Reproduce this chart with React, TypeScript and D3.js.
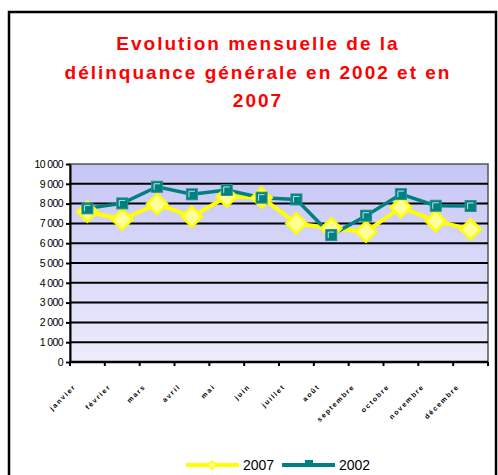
import {useEffect, useRef} from "react";
import * as d3 from "d3";

const months = ["janvier", "février", "mars", "avril", "mai", "juin", "juillet", "août", "septembre", "octobre", "novembre", "décembre"];
const values2007 = [7600, 7200, 7980, 7340, 8350, 8300, 7000, 6750, 6580, 7810, 7120, 6700];
const values2002 = [7760, 8010, 8850, 8470, 8690, 8300, 8210, 6410, 7390, 8480, 7890, 7880];
const yTicks = [0, 1000, 2000, 3000, 4000, 5000, 6000, 7000, 8000, 9000, 10000];
const titleLines = ["Evolution mensuelle de la", "délinquance générale en 2002 et en", "2007"];

function App() {
    const ref = useRef<SVGSVGElement>(null);

    useEffect(() => {
        const svg = d3.select(ref.current);
        svg.selectAll("*").remove();

        const margin = {top: 164, left: 70, right: 10, bottom: 113};
        const width = 498, height = 475;
        const w = width - margin.left - margin.right;
        const h = height - margin.top - margin.bottom;

        // outer frame
        svg.append("rect")
            .attr("x", 9).attr("y", 12)
            .attr("width", 487).attr("height", 480)
            .attr("fill", "white").attr("stroke", "black").attr("stroke-width", 2.5);

        // title
        svg.append("text")
            .attr("x", 258).attr("y", 50)
            .attr("text-anchor", "middle")
            .attr("font-family", "Arial, 'Liberation Sans', sans-serif")
            .attr("font-weight", "bold").attr("font-size", 19)
            .attr("letter-spacing", 2)
            .attr("fill", "#ff0000")
            .selectAll("tspan")
            .data(titleLines)
            .enter()
            .append("tspan")
            .attr("x", 258)
            .attr("dy", (d, i) => i === 0 ? 0 : 28.5)
            .text(d => d);

        const x = d3.scaleBand().domain(months).range([0, w]);
        const y = d3.scaleLinear().domain([0, 10000]).range([h, 0]);

        const defs = svg.append("defs");
        const grad = defs.append("linearGradient")
            .attr("id", "bg").attr("x1", 0).attr("y1", 0).attr("x2", 0).attr("y2", 1);
        grad.append("stop").attr("offset", "0%").attr("stop-color", "#c6c6f6");
        grad.append("stop").attr("offset", "100%").attr("stop-color", "#ececfc");

        const g = svg.append("g").attr("transform", "translate(" + margin.left + "," + margin.top + ")");

        g.append("rect")
            .attr("width", w).attr("height", h)
            .attr("fill", "url(#bg)")
            .attr("stroke", "#555").attr("stroke-width", 1.5);

        // gridlines
        g.selectAll(".grid")
            .data(yTicks.filter(d => d > 0 && d < 10000))
            .enter()
            .append("line")
            .attr("x1", 0).attr("x2", w)
            .attr("y1", d => y(d)).attr("y2", d => y(d))
            .attr("stroke", "black").attr("stroke-width", 2);

        // y axis
        const yAxis = g.append("g")
            .call(d3.axisLeft(y).tickValues(yTicks).tickSize(4).tickSizeOuter(0)
                .tickFormat(d => d3.format(",")(d as number).replace(",", " ")));
        yAxis.select(".domain").attr("stroke", "black").attr("stroke-width", 2);
        yAxis.selectAll(".tick line").attr("stroke", "black").attr("stroke-width", 2);
        yAxis.selectAll("text")
            .attr("font-family", "Arial, 'Liberation Sans', sans-serif")
            .attr("font-size", 10.5).attr("letter-spacing", -0.6)
            .attr("fill", "black").attr("x", -7);

        // x axis
        const xAxis = g.append("g").attr("transform", "translate(0," + h + ")");
        xAxis.append("line").attr("x1", 0).attr("x2", w).attr("stroke", "black").attr("stroke-width", 2.5);
        xAxis.selectAll(".xt")
            .data(d3.range(months.length + 1))
            .enter()
            .append("line")
            .attr("x1", i => i * x.step()).attr("x2", i => i * x.step())
            .attr("y1", 0).attr("y2", 4)
            .attr("stroke", "black").attr("stroke-width", 2);
        xAxis.selectAll(".xl")
            .data(months)
            .enter()
            .append("text")
            .attr("transform", d => "translate(" + (x(d)! + x.bandwidth() / 2 - 11) + ",25) rotate(-45)")
            .attr("text-anchor", "end")
            .attr("font-family", "Arial, 'Liberation Sans', sans-serif")
            .attr("font-weight", "bold").attr("font-size", 7)
            .attr("letter-spacing", 1.6)
            .attr("fill", "black")
            .text(d => d);

        const cx = (d: string) => x(d)! + x.bandwidth() / 2;
        const line = d3.line<number>().x((d, i) => cx(months[i])).y(d => y(d));

        // 2007
        g.append("path").datum(values2007)
            .attr("d", line).attr("fill", "none")
            .attr("stroke", "#ffff00").attr("stroke-width", 4).attr("stroke-linejoin", "round");
        // 2002
        g.append("path").datum(values2002)
            .attr("d", line).attr("fill", "none")
            .attr("stroke", "#008080").attr("stroke-width", 3.5);

        const diamond = d3.symbol().type(d3.symbolDiamond2).size(260);
        g.selectAll(".m2007")
            .data(values2007)
            .enter()
            .append("path")
            .attr("d", diamond)
            .attr("transform", (d, i) => "translate(" + cx(months[i]) + "," + y(d) + ")")
            .attr("fill", "#ffff99").attr("stroke", "#ffff00").attr("stroke-width", 2.5);

        g.selectAll(".m2002")
            .data(values2002)
            .enter()
            .append("rect")
            .attr("x", (d, i) => cx(months[i]) - 5.5)
            .attr("y", d => y(d) - 5.5)
            .attr("width", 11).attr("height", 11)
            .attr("fill", "#008080").attr("stroke", "#2a8f8f").attr("stroke-width", 1);
        g.selectAll(".m2002hl")
            .data(values2002)
            .enter()
            .append("path")
            .attr("d", (d, i) => {
                const px = cx(months[i]), py = y(d);
                return "M" + (px - 3) + "," + (py + 3) + "V" + (py - 3) + "H" + (px + 3);
            })
            .attr("fill", "none").attr("stroke", "#bfe6e6").attr("stroke-width", 1);

        // legend
        const lg = svg.append("g").attr("transform", "translate(0,465)");
        lg.append("line").attr("x1", 186).attr("x2", 239).attr("stroke", "#ffff00").attr("stroke-width", 4);
        lg.append("path").attr("d", d3.symbol().type(d3.symbolDiamond2).size(40))
            .attr("transform", "translate(212,0)")
            .attr("fill", "#ffff99").attr("stroke", "#ffff00").attr("stroke-width", 1.5);
        lg.append("text").attr("x", 243).attr("y", 5)
            .attr("font-family", "Arial, 'Liberation Sans', sans-serif").attr("font-size", 14)
            .text("2007");
        lg.append("line").attr("x1", 282).attr("x2", 335).attr("stroke", "#008080").attr("stroke-width", 4);
        lg.append("rect").attr("x", 305).attr("y", -5).attr("width", 8).attr("height", 7)
            .attr("fill", "#008080");
        lg.append("text").attr("x", 339).attr("y", 5)
            .attr("font-family", "Arial, 'Liberation Sans', sans-serif").attr("font-size", 14)
            .text("2002");
    }, []);

    return <svg ref={ref} width={498} height={475} style={{position: "absolute", left: 0, top: 0}}></svg>
}

export default App;
